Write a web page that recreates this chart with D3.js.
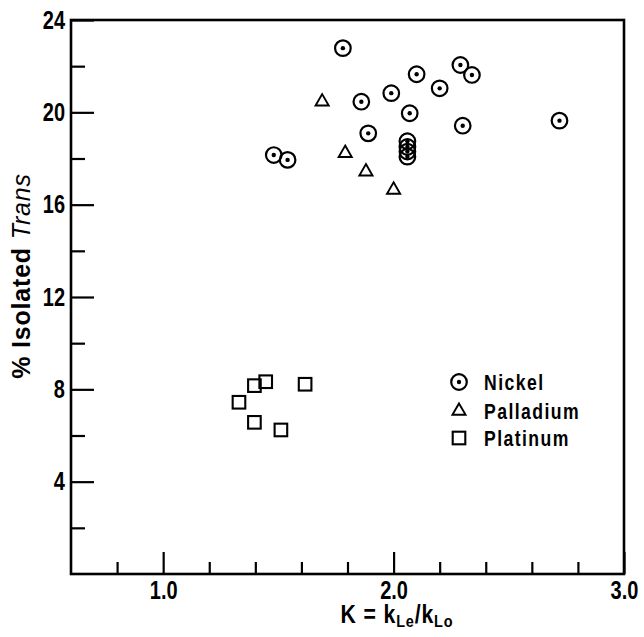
<!DOCTYPE html>
<html>
<head>
<meta charset="utf-8">
<script src="https://cdn.jsdelivr.net/npm/d3@7"></script>
<style>
  body { margin: 0; background: #fff; }
  svg { display: block; }
  text { font-family: "Liberation Sans", Arial, sans-serif; fill: #000; }
</style>
</head>
<body>
<svg id="chart" width="644" height="637"></svg>
<script>
// ---- data ----
const nickelK     = [1.78, 2.10, 2.29, 2.34, 2.20, 1.99, 1.86, 2.07, 1.89, 2.30, 2.72, 1.48, 1.54, 2.06, 2.06, 2.06, 2.06];
const nickelTrans = [22.78, 21.65, 22.05, 21.62, 21.04, 20.83, 20.46, 19.96, 19.09, 19.42, 19.64, 18.15, 17.94, 18.75, 18.50, 18.30, 18.08];
const palladiumK     = [1.69, 1.79, 1.88, 2.00];
const palladiumTrans = [20.46, 18.23, 17.43, 16.64];
const platinumK     = [1.445, 1.396, 1.616, 1.329, 1.396, 1.511];
const platinumTrans = [8.33, 8.16, 8.22, 7.44, 6.57, 6.24];
const yMajorTicks = [4, 8, 12, 16, 20, 24];
const yMinorTicks = [2, 6, 10, 14, 18, 22];
const xMajorTicks = [1.0, 2.0, 3.0];
const xMinorTicks = [0.8, 1.2, 1.4, 1.6, 1.8, 2.2, 2.4, 2.6, 2.8];
const legendLabels = ["Nickel", "Palladium", "Platinum"];

const svg = d3.select("#chart");
const L = 71, R = 624, T = 20, B = 574;
const SX = 0.8; // horizontal condensing of the bold face
const x = d3.scaleLinear().domain([0.6, 3.0]).range([L, R]);
const y = d3.scaleLinear().domain([0, 24]).range([B, T]);

function condense(sel, sx) {
  sel.each(function () {
    const t = d3.select(this);
    const x0 = +t.attr("x") || 0, y0 = +t.attr("y") || 0;
    t.attr("x", 0).attr("y", 0).attr("transform", `translate(${x0},${y0}) scale(${sx},1)`);
  });
}

// axes
const yMaj = svg.append("g").attr("transform", `translate(${L},0)`)
  .call(d3.axisLeft(y).tickValues(yMajorTicks).tickSize(-23).tickPadding(6).tickFormat(d3.format("d")));
const yMin = svg.append("g").attr("transform", `translate(${L},0)`)
  .call(d3.axisLeft(y).tickValues(yMinorTicks).tickSize(-14).tickFormat(""));
const xMaj = svg.append("g").attr("transform", `translate(0,${B})`)
  .call(d3.axisBottom(x).tickValues(xMajorTicks).tickSize(-22).tickPadding(7).tickFormat(d3.format(".1f")));
const xMin = svg.append("g").attr("transform", `translate(0,${B})`)
  .call(d3.axisBottom(x).tickValues(xMinorTicks).tickSize(-12).tickFormat(""));
[yMaj, yMin, xMaj, xMin].forEach(g => {
  g.select(".domain").remove();
  g.selectAll(".tick line").attr("stroke", "#000").attr("stroke-width", 2.2);
  g.selectAll(".tick text").attr("font-size", 25).attr("font-weight", "bold")
    .attr("font-family", "'Liberation Sans', Arial, sans-serif").attr("fill", "#000");
  condense(g.selectAll(".tick text"), SX);
});

// frame
svg.append("rect").attr("x", L).attr("y", T).attr("width", R - L).attr("height", B - T)
  .attr("fill", "none").attr("stroke", "#000").attr("stroke-width", 2.6);

// markers
const ni = nickelK.map((k, i) => ({k, t: nickelTrans[i]}));
const pd = palladiumK.map((k, i) => ({k, t: palladiumTrans[i]}));
const pt = platinumK.map((k, i) => ({k, t: platinumTrans[i]}));

function drawCircle(g, cx, cy) {
  g.append("circle").attr("cx", cx).attr("cy", cy).attr("r", 7.8)
    .attr("fill", "none").attr("stroke", "#000").attr("stroke-width", 2.2);
  g.append("circle").attr("cx", cx).attr("cy", cy).attr("r", 2.2).attr("fill", "#000");
}
const triPath = d3.symbol().type(d3.symbolTriangle).size(75);
function drawTri(g, cx, cy) {
  g.append("path").attr("d", triPath()).attr("transform", `translate(${cx},${cy})`)
    .attr("fill", "none").attr("stroke", "#000").attr("stroke-width", 1.9);
}
function drawSq(g, cx, cy) {
  g.append("rect").attr("x", cx - 6.3).attr("y", cy - 6.3).attr("width", 12.6).attr("height", 12.6)
    .attr("fill", "none").attr("stroke", "#000").attr("stroke-width", 2.1);
}

const gm = svg.append("g");
ni.forEach(d => drawCircle(gm, x(d.k), y(d.t)));
pd.forEach(d => drawTri(gm, x(d.k), y(d.t)));
pt.forEach(d => drawSq(gm, x(d.k), y(d.t)));

// legend
const lg = svg.append("g");
const lx = 459, ly = [382, 411, 438];
drawCircle(lg, lx, ly[0]);
drawTri(lg, lx, ly[1]);
drawSq(lg, lx, ly[2]);
legendLabels.forEach((s, i) => {
  lg.append("text").attr("x", 484).attr("y", ly[i] + 8).attr("font-size", 22)
    .attr("font-weight", "bold").attr("letter-spacing", 1.8).text(s);
});
condense(lg.selectAll("text"), SX);

// x title
const xt = svg.append("text").attr("x", 397).attr("y", 623).attr("text-anchor", "middle")
  .attr("font-size", 25).attr("font-weight", "bold").attr("letter-spacing", 1);
xt.append("tspan").text("K = k");
xt.append("tspan").attr("font-size", 17).attr("dy", 4).text("Le");
xt.append("tspan").attr("dy", -4).text("/k");
xt.append("tspan").attr("font-size", 17).attr("dy", 4).text("Lo");
condense(xt, 0.85);

// y title
const yt = svg.append("text").attr("transform", "translate(30,276) rotate(-90)")
  .attr("text-anchor", "middle").attr("font-size", 25).attr("letter-spacing", 0.8);
yt.append("tspan").attr("font-weight", "bold").text("% Isolated ");
yt.append("tspan").attr("font-style", "italic").attr("font-size", 25).text("Trans");
</script>
</body>
</html>
